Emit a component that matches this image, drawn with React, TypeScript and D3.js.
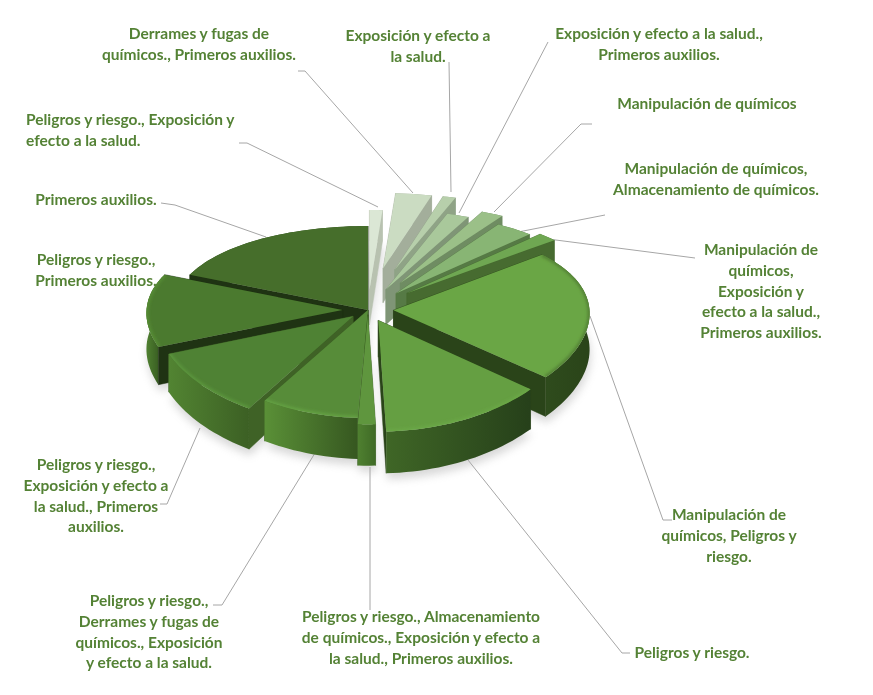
import React from 'react';
import { color, line, pie, range } from 'd3';

// share of answers per topic combination, clockwise from 12 o'clock
const categories = [
  'Peligros y riesgo., Exposición y efecto a la salud.',
  'Derrames y fugas de químicos., Primeros auxilios.',
  'Exposición y efecto a la salud.',
  'Exposición y efecto a la salud., Primeros auxilios.',
  'Manipulación de químicos',
  'Manipulación de químicos, Almacenamiento de químicos.',
  'Manipulación de químicos, Exposición y efecto a la salud., Primeros auxilios.',
  'Manipulación de químicos, Peligros y riesgo.',
  'Peligros y riesgo.',
  'Peligros y riesgo., Almacenamiento de químicos., Exposición y efecto a la salud., Primeros auxilios.',
  'Peligros y riesgo., Derrames y fugas de químicos., Exposición y efecto a la salud.',
  'Peligros y riesgo., Exposición y efecto a la salud., Primeros auxilios.',
  'Peligros y riesgo., Primeros auxilios.',
  'Primeros auxilios.',
];
const values = [1.1, 3.1, 1.1, 1.9, 1.9, 3.3, 1.7, 22.2, 13.1, 1.4, 7.8, 10.3, 12.5, 18.6];

// look of the slices
const explode = [0.22, 0.47, 0.47, 0.24, 0.34, 0.23, 0.27, 0.13, 0.12, 0.05, 0, 0.1, 0.13, 0];
const topColors = ['#dbe7d5', '#cbdcc2', '#b7cfab', '#a9c89b', '#9bc088', '#88b574', '#6fa752', '#6aa645', '#659f42', '#5f963e', '#578c39', '#4f8234', '#4b7a2f', '#466e2b'];
const cutColors = ['#b8c2b0', '#a3ae9b', '#8fa386', '#7f9576', '#6f8c62', '#567a45', '#476b30', '#2a4419', '#2a4419', '#3a5e22', '#3d6124', '#3f6226', '#1f3313', '#1f3313'];
const wallLeft = ['#b8c2b0', '#a3ae9b', '#8fa386', '#7f9576', '#6f8c62', '#567a45', '#476b30', '#2f4c1d', '#3f6626', '#4f8030', '#5a9037', '#528432', '#4f8030', '#2f4e1c'];
const wallRight = ['#b8c2b0', '#a3ae9b', '#8fa386', '#7f9576', '#6f8c62', '#567a45', '#476b30', '#2a4419', '#26401a', '#3f6a26', '#365720', '#3c6024', '#2f4e1c', '#2f4e1c'];
const rimShift = [0, 0, 0, 0, 0, 0, 0, -0.7, 0.15, 0.3, 0.4, 0.4, 0.4, 0];

const labels = [
  { lines: ['Peligros y riesgo., Exposición y', 'efecto a la salud.'], x: 26, y: 125, anchor: 'start' },
  { lines: ['Derrames y fugas de', 'químicos., Primeros auxilios.'], x: 199, y: 39 },
  { lines: ['Exposición y efecto a', 'la salud.'], x: 418, y: 41 },
  { lines: ['Exposición y efecto a la salud.,', 'Primeros auxilios.'], x: 659, y: 39 },
  { lines: ['Manipulación de químicos'], x: 707, y: 109 },
  { lines: ['Manipulación de químicos,', 'Almacenamiento de químicos.'], x: 716, y: 174 },
  { lines: ['Manipulación de', 'químicos,', 'Exposición y', 'efecto a la salud.,', 'Primeros auxilios.'], x: 761, y: 255 },
  { lines: ['Manipulación de', 'químicos, Peligros y', 'riesgo.'], x: 729, y: 520 },
  { lines: ['Peligros y riesgo.'], x: 692, y: 658 },
  { lines: ['Peligros y riesgo., Almacenamiento', 'de químicos., Exposición y efecto a', 'la salud., Primeros auxilios.'], x: 421, y: 622 },
  { lines: ['Peligros y riesgo.,', 'Derrames y fugas de', 'químicos., Exposición', 'y efecto a la salud.'], x: 149, y: 606 },
  { lines: ['Peligros y riesgo.,', 'Exposición y efecto a', 'la salud., Primeros', 'auxilios.'], x: 96, y: 470 },
  { lines: ['Peligros y riesgo.,', 'Primeros auxilios.'], x: 96, y: 265 },
  { lines: ['Primeros auxilios.'], x: 96, y: 205 },
];
const leaders = [
  [[239, 143], [247, 143], [378, 207]],
  [[298, 71], [305, 71], [413, 193]],
  [[449, 62], [451, 192]],
  [[548, 42], [459, 213]],
  [[592, 124], [581, 124], [494, 212]],
  [[605, 215], [513, 233]],
  [[695, 258], [548, 239]],
  [[672, 520], [663, 520], [590, 316]],
  [[630, 653], [622, 653], [468, 460]],
  [[370, 467], [370, 610]],
  [[315, 453], [222, 605], [213, 605]],
  [[200, 428], [167, 504], [160, 504]],
  [],
  [[161, 203], [175, 205], [266, 237]],
];

const W = 873;
const H = 695;
const cx = 368;
const cy = 310;
const rx = 196;
const ry = 94.5;
const persp = 0.125;
const perspX = 0.03;
const depth = 36;

const project = (X: number, Y: number, z: number): [number, number] => {
  const w = 1 + persp * Y;
  return [cx + (X * rx) / (1 + perspX * Y), cy - (Y * ry) / w + (z * depth) / w];
};

const path = line().context(null);

const slices = pie<number>().sort(null).value((d) => d)(values).map((a, i) => {
  const mid = (a.startAngle + a.endAngle) / 2;
  const ox = explode[i] * Math.sin(mid);
  const oy = explode[i] * Math.cos(mid);
  const steps = Math.max(2, Math.ceil((a.endAngle - a.startAngle) * 30));
  const angles = range(steps + 1).map((k) => a.startAngle + ((a.endAngle - a.startAngle) * k) / steps);
  const rim = (z: number) => angles.map((t) => project(ox + Math.sin(t), oy + Math.cos(t), z));
  const apex = (z: number) => project(ox, oy, z);
  const topRim = rim(0);
  const lowRim = rim(1);
  const outline = [apex(0), ...topRim];
  const cuts = [
    [apex(0), topRim[0], lowRim[0], apex(1)],
    [apex(0), topRim[steps], lowRim[steps], apex(1)],
  ];
  return { i, mid, outline, topRim, lowRim, cuts, base: [apex(1), ...lowRim] };
});

const order = [...slices].sort((p, q) => Math.cos(q.mid) - Math.cos(p.mid));

const closed = (pts: [number, number][]) => `${path(pts)}Z`;
const meanY = (pts: [number, number][]) => pts.reduce((s, p) => s + p[1], 0) / pts.length;

const App: React.FC = () => (
  <svg width={W} height={H} style={{ position: 'absolute', left: 0, top: 0, display: 'block', background: '#fff' }}>
    <defs>
      <filter id="soft" x="-30%" y="-30%" width="160%" height="160%">
        <feGaussianBlur stdDeviation="4" />
      </filter>
      <filter id="bevel" x="-20%" y="-20%" width="140%" height="140%">
        <feGaussianBlur stdDeviation="1.5" />
      </filter>
      {slices.map((s) => (
        <linearGradient id={`wall${s.i}`} key={s.i} x1="0" x2="1" y1="0" y2="0">
          <stop offset="0" stopColor={wallLeft[s.i]} />
          <stop offset="1" stopColor={wallRight[s.i]} />
        </linearGradient>
      ))}
      {slices.map((s) => (
        <clipPath id={`clip${s.i}`} key={s.i}>
          <path d={closed(s.outline)} />
        </clipPath>
      ))}
    </defs>

    <g filter="url(#soft)" opacity={0.45}>
      {slices.map((s) => (
        <path key={s.i} d={closed(s.base)} transform="translate(1,6)" fill="#a8a8a8" />
      ))}
    </g>

    {leaders.map((pts, i) => (
      <path key={i} d={path(pts as [number, number][]) ?? ''} fill="none" stroke="#a6a6a6" strokeWidth={1} />
    ))}

    {order.map((s) => {
      const faces = [
        ...s.cuts.map((pts) => ({ pts, outer: false })),
        { pts: [...s.topRim, ...[...s.lowRim].reverse()], outer: true },
      ].sort((a, b) => meanY(a.pts as [number, number][]) - meanY(b.pts as [number, number][]));
      const shift = rimShift[s.i];
      return (
        <g key={s.i}>
          {faces.map((f, k) => (
            <path
              key={k}
              d={closed(f.pts as [number, number][])}
              fill={f.outer ? `url(#wall${s.i})` : cutColors[s.i]}
              stroke={f.outer ? 'none' : cutColors[s.i]}
              strokeWidth={0.5}
            />
          ))}
          <path d={closed(s.outline)} fill={topColors[s.i]} />
          {shift !== 0 && (
            <g clipPath={`url(#clip${s.i})`}>
              <path
                d={path(s.topRim) ?? ''}
                fill="none"
                stroke={(shift > 0 ? color(topColors[s.i])?.brighter(shift) : color(topColors[s.i])?.darker(-shift))?.formatHex()}
                strokeWidth={4}
                filter="url(#bevel)"
              />
            </g>
          )}
        </g>
      );
    })}

    <g fontFamily="Lato, Carlito, sans-serif" fontWeight={700} fontSize={15.5} fill="#548235">
      {labels.map((l, i) => (
        <text key={categories[i]} x={l.x} y={l.y} textAnchor={l.anchor ?? 'middle'}>
          {l.lines.map((t, k) => (
            <tspan key={k} x={l.x} dy={k === 0 ? 0 : 20.8}>
              {t}
            </tspan>
          ))}
        </text>
      ))}
    </g>
  </svg>
);

export default App;
